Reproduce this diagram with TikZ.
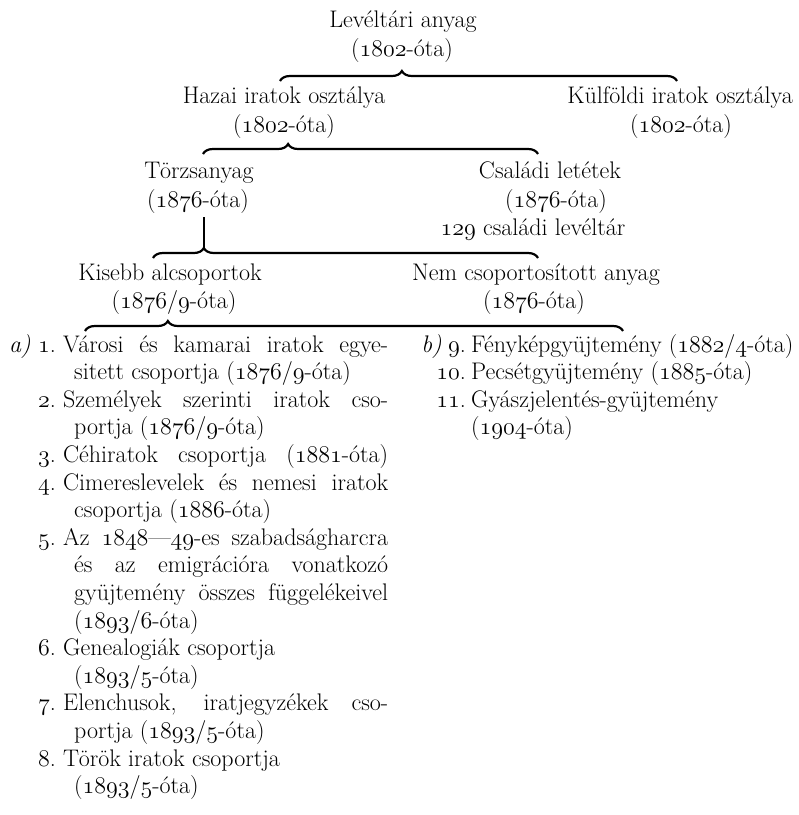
\documentclass[tikz,border=0pt]{standalone}
\usepackage{fontspec}
\usetikzlibrary{decorations.pathreplacing}
\DeclareFontFamily{OML}{myosf}{\skewchar\font=127 }
\DeclareFontShape{OML}{myosf}{m}{it}{<-> cmmi12}{}
\newcommand\os[1]{{\fontencoding{OML}\fontfamily{myosf}\fontseries{m}\fontshape{it}\selectfont #1}}
\newcommand\bigf{\fontsize{24}{29}\selectfont}
\newcommand\jl[1]{\makebox[325pt][s]{#1}}
\newcommand\jc[1]{\makebox[314pt][s]{#1}}
\tikzset{
  txt/.style={inner sep=0pt, anchor=base, font=\bigf},
  lft/.style={inner sep=0pt, anchor=base west, font=\bigf},
  num/.style={inner sep=0pt, anchor=base east, font=\bigf},
  brc/.style={decorate, decoration={brace, amplitude=10pt, aspect=#1}, line width=2.2pt},
  vline/.style={line width=2.4pt},
}
\begin{document}
\begin{tikzpicture}[x=1pt,y=-1pt]
\useasboundingbox (0,0) rectangle (799,815);
% top
\node[txt] (lev1) at (403,27) {Levéltári anyag};
\node[txt] (lev2) at (402,56) {(\os{1802}-óta)};
\coordinate (b1l) at (280,81); \coordinate (b1r) at (677,81);
\draw[brc=0.307] (b1l) -- (b1r);
% level 2
\node[txt] (haz1) at (284,103) {Hazai iratok osztálya};
\node[txt] (haz2) at (284,132) {(\os{1802}-óta)};
\node[txt] (kul1) at (680,103) {Külföldi iratok osztálya};
\node[txt] (kul2) at (681,132) {(\os{1802}-óta)};
\coordinate (b2l) at (203,154); \coordinate (b2r) at (538,154);
\draw[brc=0.254] (b2l) -- (b2r);
% level 3
\node[txt] (tor1) at (199,178) {Törzsanyag};
\node[txt] (tor2) at (198,207) {(\os{1876}-óta)};
\node[txt] (csa1) at (550,178) {Családi letétek};
\node[txt] (csa2) at (556,207) {(\os{1876}-óta)};
\node[txt] (csa3) at (533,235) {\os{129} családi levéltár};
\coordinate (vtop) at (204,217); \coordinate (b3tip) at (204,248);
\draw[vline] (vtop) -- (b3tip);
\coordinate (b3l) at (153,258); \coordinate (b3r) at (538,258);
\draw[brc=0.132] (b3l) -- (b3r);
% level 4
\node[txt] (kis1) at (170,280) {Kisebb alcsoportok};
\node[txt] (kis2) at (174,308) {(\os{1876}/\os{9}-óta)};
\node[txt] (nem1) at (536,280) {Nem csoportosított anyag};
\node[txt] (nem2) at (534,308) {(\os{1876}-óta)};
\coordinate (b4l) at (85,331); \coordinate (b4r) at (623,331);
\draw[brc=0.154] (b4l) -- (b4r);
% list a
\node[num] (la) at (31,352) {\textit{a)}};
\node[num] (n1) at (56,352) {\os{1}.};
\node[lft] (t1a) at (63,352) {\jl{Városi és kamarai iratok egye-}};
\node[lft] (t1b) at (74,379.6) {sitett csoportja (\os{1876}/\os{9}-óta)};
\node[num] (n2) at (56,407.2) {\os{2}.};
\node[lft] (t2a) at (63,407.2) {\jl{Személyek szerinti iratok cso-}};
\node[lft] (t2b) at (74,434.8) {portja (\os{1876}/\os{9}-óta)};
\node[num] (n3) at (56,462.4) {\os{3}.};
\node[lft] (t3a) at (63,462.4) {\jl{Céhiratok csoportja (\os{1881}-óta)}};
\node[num] (n4) at (56,490) {\os{4}.};
\node[lft] (t4a) at (63,490) {\jl{Cimereslevelek és nemesi iratok}};
\node[lft] (t4b) at (74,517.6) {csoportja (\os{1886}-óta)};
\node[num] (n5) at (56,545.2) {\os{5}.};
\node[lft] (t5a) at (63,545.2) {\jl{Az \os{1848}—\os{49}-es szabadságharcra}};
\node[lft] (t5b) at (74,572.8) {\jc{és az emigrációra vonatkozó}};
\node[lft] (t5c) at (74,600.4) {\jc{gyüjtemény összes függelékeivel}};
\node[lft] (t5d) at (74,628) {(\os{1893}/\os{6}-óta)};
\node[num] (n6) at (56,655.6) {\os{6}.};
\node[lft] (t6a) at (63,655.6) {Genealogiák csoportja};
\node[lft] (t6b) at (74,683.2) {(\os{1893}/\os{5}-óta)};
\node[num] (n7) at (56,710.8) {\os{7}.};
\node[lft] (t7a) at (63,710.8) {\jl{Elenchusok, iratjegyzékek cso-}};
\node[lft] (t7b) at (74,738.4) {portja (\os{1893}/\os{5}-óta)};
\node[num] (n8) at (56,766) {\os{8}.};
\node[lft] (t8a) at (63,766) {Török iratok csoportja};
\node[lft] (t8b) at (74,793.6) {(\os{1893}/\os{5}-óta)};
% list b
\node[num] (lb) at (442,352) {\textit{b)}};
\node[num] (n9) at (466,352) {\os{9}.};
\node[lft] (t9) at (471,352) {Fényképgyüjtemény (\os{1882}/\os{4}-óta)};
\node[num] (n10) at (466,379.6) {\os{10}.};
\node[lft] (t10) at (471,379.6) {Pecsétgyüjtemény (\os{1885}-óta)};
\node[num] (n11) at (466,407.2) {\os{11}.};
\node[lft] (t11a) at (471,407.2) {Gyászjelentés-gyüjtemény};
\node[lft] (t11b) at (471,434.8) {(\os{1904}-óta)};
\end{tikzpicture}
\end{document}
